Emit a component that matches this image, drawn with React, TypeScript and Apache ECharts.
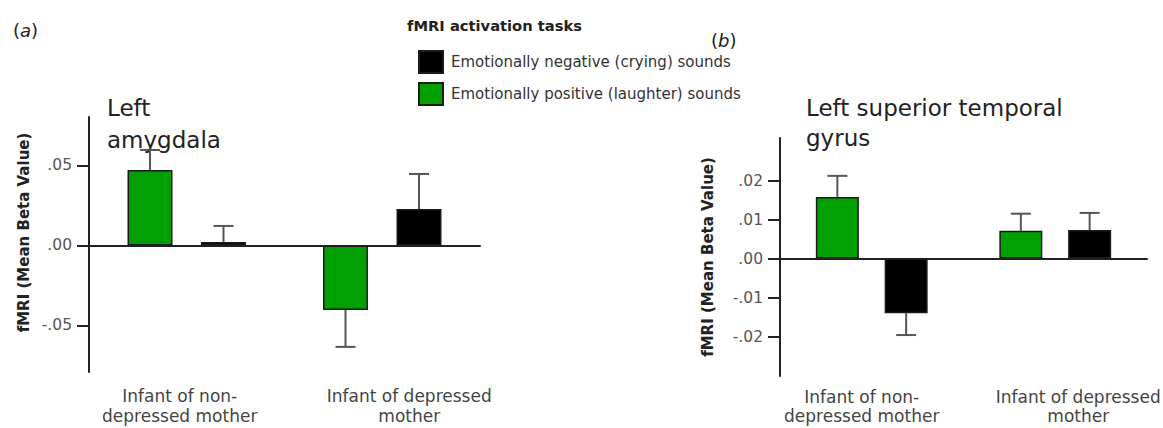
import React, { useEffect, useRef } from "react";
import * as echarts from "echarts";

// ---- data ----
const categories = ["Infant of non-\ndepressed mother", "Infant of depressed\nmother"];
const seriesNegName = "Emotionally negative (crying) sounds";
const seriesPosName = "Emotionally positive (laughter) sounds";

// Panel (a) Left amygdala
const amygPositive = [0.0472, -0.0403];
const amygPositiveSem = [0.0125, 0.0231];
const amygNegative = [0.0022, 0.0228];
const amygNegativeSem = [0.01, 0.0219];
const amygTicks = [-0.05, 0, 0.05];
const amygTickLabels = ["-.05", ".00", ".05"];

// Panel (b) Left superior temporal gyrus
const stgPositive = [0.0158, 0.0071];
const stgPositiveSem = [0.0054, 0.0044];
const stgNegative = [-0.014, 0.0073];
const stgNegativeSem = [0.0056, 0.0044];
const stgTicks = [-0.02, -0.01, 0, 0.01, 0.02];
const stgTickLabels = ["-.02", "-.01", ".00", ".01", ".02"];

const FONT = "DejaVu Sans";
const GREEN = "#00a000";

function errData(vals: number[], sems: number[]) {
  return vals.map((v, i) => [i, v, v + (v >= 0 ? 1 : -1) * sems[i]]);
}

function errSeries(axisIdx: number, vals: number[], sems: number[], offset: number) {
  return {
    type: "custom",
    xAxisIndex: axisIdx,
    yAxisIndex: axisIdx,
    z: 5,
    data: errData(vals, sems),
    renderItem: (params: any, api: any) => {
      const cat = api.value(0);
      const v = api.value(1);
      const e = api.value(2);
      const base = api.coord([cat, v]);
      const end = api.coord([cat, e]);
      const x = base[0] + offset;
      const st = { stroke: "#555", lineWidth: 2 };
      return {
        type: "group",
        children: [
          { type: "line", shape: { x1: x, y1: base[1], x2: x, y2: end[1] }, style: st },
          { type: "line", shape: { x1: x - 10, y1: end[1], x2: x + 10, y2: end[1] }, style: st },
        ],
      };
    },
  };
}

function yAxisCfg(
  idx: number,
  min: number,
  max: number,
  ticks: number[],
  labels: string[],
  nameGap: number,
  namePad: number[]
) {
  return {
    type: "value",
    gridIndex: idx,
    min,
    max,
    name: "fMRI (Mean Beta Value)",
    nameLocation: "middle",
    nameGap,
    nameTextStyle: {
      fontFamily: FONT,
      fontWeight: "bold",
      fontSize: 15,
      color: "#222",
      padding: namePad,
    },
    splitLine: { show: false },
    axisLine: { show: true, lineStyle: { color: "#222", width: 2 } },
    axisTick: {
      show: true,
      length: 12,
      customValues: ticks,
      lineStyle: { color: "#222", width: 2 },
    },
    axisLabel: {
      customValues: ticks,
      margin: 17,
      fontFamily: FONT,
      fontSize: 15.5,
      color: "#555",
      formatter: (v: number) => {
        const i = ticks.findIndex((t) => Math.abs(t - v) < 1e-9);
        return i >= 0 ? labels[i] : "";
      },
    },
  };
}

function xAxisCfg(idx: number, margin: number, lineHeight: number, pad0: number[], pad1: number[]) {
  const base = { fontFamily: FONT, fontSize: 17, color: "#444", lineHeight };
  return {
    type: "category",
    gridIndex: idx,
    data: categories,
    axisLine: { show: true, onZero: true, lineStyle: { color: "#222", width: 2 } },
    axisTick: { show: false },
    axisLabel: {
      interval: 0,
      margin,
      formatter: (v: string, i: number) => `{c${i}|${v}}`,
      rich: {
        c0: { ...base, padding: pad0 },
        c1: { ...base, padding: pad1 },
      },
    },
  };
}

export default function App() {
  const ref = useRef<HTMLDivElement>(null);

  useEffect(() => {
    if (!ref.current) return;
    const chart = echarts.init(ref.current, undefined, { renderer: "svg" });

    const bwA = 45;
    const gA = 0.633;
    const offA = (bwA * (1 + gA)) / 2;
    const bwB = 43;
    const gB = 0.6;
    const offB = (bwB * (1 + gB)) / 2;

    const barStyle = (color: string) => ({
      color,
      borderColor: "#1a1a1a",
      borderWidth: 1.5,
    });

    const option: any = {
      animation: false,
      backgroundColor: "#ffffff",
      textStyle: { fontFamily: FONT },
      legend: {
        orient: "vertical",
        left: 418,
        top: 50,
        padding: 0,
        itemWidth: 24,
        itemHeight: 22,
        itemGap: 8,
        icon: "rect",
        data: [seriesNegName, seriesPosName],
        textStyle: { fontFamily: FONT, fontSize: 15, color: "#333", padding: [0, 0, 0, 3] },
        selectedMode: false,
      },
      grid: [
        { left: 89, right: 683, top: 117, bottom: 56, containLabel: false, outerBoundsMode: "none" },
        { left: 780, right: 16, top: 138, bottom: 52, containLabel: false, outerBoundsMode: "none" },
      ],
      xAxis: [
        xAxisCfg(0, 14, 20, [0, 14, 0, 0], [0, 0, 0, 54]),
        xAxisCfg(1, 11, 19, [0, 20, 0, 0], [0, 0, 0, 46]),
      ],
      yAxis: [
        yAxisCfg(0, -0.0791, 0.0803, amygTicks, amygTickLabels, 58, [0, 0, 0, 24]),
        yAxisCfg(1, -0.0301, 0.0309, stgTicks, stgTickLabels, 65, [0, 0, 0, 0]),
      ],
      series: [
        {
          name: seriesPosName,
          type: "bar",
          xAxisIndex: 0,
          yAxisIndex: 0,
          barWidth: bwA,
          barGap: gA * 100 + "%",
          data: amygPositive,
          itemStyle: barStyle(GREEN),
        },
        {
          name: seriesNegName,
          type: "bar",
          xAxisIndex: 0,
          yAxisIndex: 0,
          barWidth: bwA,
          barGap: gA * 100 + "%",
          data: amygNegative,
          itemStyle: barStyle("#000000"),
        },
        {
          name: seriesPosName,
          type: "bar",
          xAxisIndex: 1,
          yAxisIndex: 1,
          barWidth: bwB,
          barGap: gB * 100 + "%",
          data: stgPositive,
          itemStyle: barStyle(GREEN),
        },
        {
          name: seriesNegName,
          type: "bar",
          xAxisIndex: 1,
          yAxisIndex: 1,
          barWidth: bwB,
          barGap: gB * 100 + "%",
          data: stgNegative,
          itemStyle: barStyle("#000000"),
        },
        errSeries(0, amygPositive, amygPositiveSem, -offA),
        errSeries(0, amygNegative, amygNegativeSem, offA),
        errSeries(1, stgPositive, stgPositiveSem, -offB),
        errSeries(1, stgNegative, stgNegativeSem, offB),
      ],
      graphic: [
        {
          type: "text",
          left: 13,
          top: 21,
          style: {
            text: "({i|a})",
            fontFamily: FONT,
            fontSize: 18,
            fill: "#222",
            rich: { i: { fontStyle: "italic", fontFamily: FONT, fontSize: 18, fill: "#222" } },
          },
        },
        {
          type: "text",
          left: 711,
          top: 31,
          style: {
            text: "({i|b})",
            fontFamily: FONT,
            fontSize: 18,
            fill: "#222",
            rich: { i: { fontStyle: "italic", fontFamily: FONT, fontSize: 18, fill: "#222" } },
          },
        },
        {
          type: "text",
          left: 407,
          top: 18,
          style: {
            text: "fMRI activation tasks",
            fontFamily: FONT,
            fontWeight: "bold",
            fontSize: 14.7,
            fill: "#222",
          },
        },
        {
          type: "text",
          left: 107,
          top: 92,
          style: {
            text: "Left\namygdala",
            fontFamily: FONT,
            fontSize: 23,
            lineHeight: 32,
            fill: "#222",
          },
        },
        {
          type: "text",
          left: 806,
          top: 93,
          style: {
            text: "Left superior temporal\ngyrus",
            fontFamily: FONT,
            fontSize: 23,
            lineHeight: 30,
            fill: "#222",
          },
        },
      ],
    };

    chart.setOption(option);
    return () => chart.dispose();
  }, []);

  return (
    <div
      ref={ref}
      style={{ position: "fixed", left: 0, top: 0, width: 1163, height: 428, background: "#fff" }}
    />
  );
}
